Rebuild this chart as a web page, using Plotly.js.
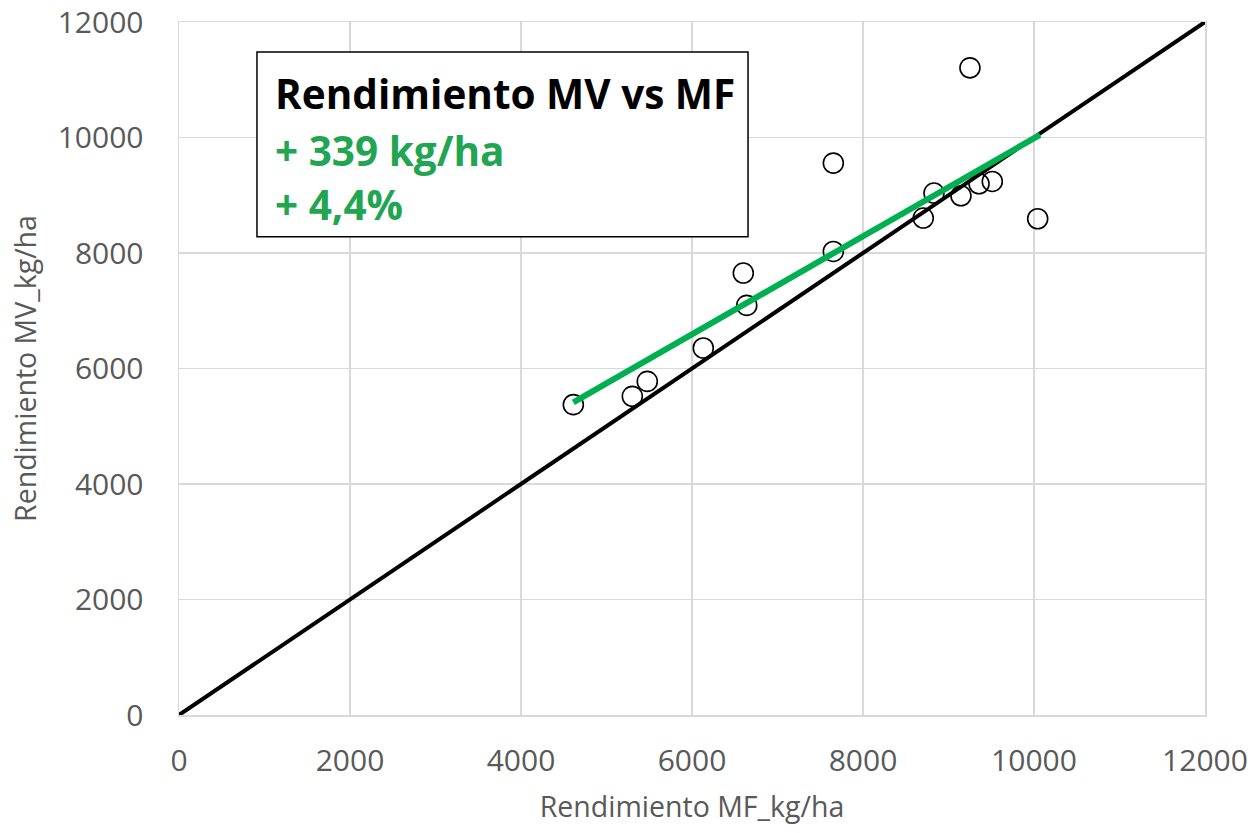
<!DOCTYPE html>
<html><head><meta charset="utf-8">
<script src="https://cdn.plot.ly/plotly-3.0.1.min.js"></script>
<style>html,body{margin:0;padding:0;background:#fff}</style>
</head><body><div id="chart" style="width:1256px;height:833px"></div>
<script>
// Data
var rendMF = [4612, 5302, 5477, 6132, 6600, 6640, 7653, 7653, 8705, 8830, 9146, 9251, 9357, 9512, 10043];
var rendMV = [5374, 5518, 5777, 6355, 7653, 7093, 9557, 8027, 8605, 9038, 8991, 11206, 9199, 9239, 8593];
var refLineX = [0, 12000];
var refLineY = [0, 12000];
var trendX = [4612, 10070];
var trendY = [5414, 10047];
var xTicks = [0, 2000, 4000, 6000, 8000, 10000, 12000];
var yTicks = [0, 2000, 4000, 6000, 8000, 10000, 12000];
var boxLines = ["Rendimiento MV vs MF", "+ 339 kg/ha", "+ 4,4%"];

var FONT = "Open Sans, Lato, sans-serif";
var traces = [
  {x: rendMF, y: rendMV, mode: "markers", marker: {symbol: "circle", size: 20, color: "rgba(255,255,255,0)", line: {color: "#000", width: 1.6}}},
  {x: refLineX, y: refLineY, mode: "lines", line: {color: "#000", width: 4}, hoverinfo: "skip"},
  {x: trendX, y: trendY, mode: "lines", line: {color: "#00b050", width: 6}, hoverinfo: "skip"}
];

var layout = {
  width: 1256, height: 833,
  margin: {l: 179, r: 51, t: 22, b: 117.5},
  paper_bgcolor: "#fff", plot_bgcolor: "#fff",
  showlegend: false,
  font: {family: FONT, color: "#595959"},
  xaxis: {
    range: [0, 12000], tickvals: xTicks, ticktext: xTicks.map(String),
    showgrid: true, gridcolor: "#d9d9d9", gridwidth: 1.5,
    zeroline: false, showline: true, linecolor: "#d9d9d9", linewidth: 1.5, mirror: true,
    ticks: "", ticklabelstandoff: 18,
    tickfont: {size: 30, family: FONT, color: "#595959"},
    title: {text: "Rendimiento MF_kg/ha", font: {size: 28.5, family: FONT, color: "#595959"}, standoff: 18}
  },
  yaxis: {
    range: [0, 12000], tickvals: yTicks, ticktext: yTicks.map(String),
    showgrid: true, gridcolor: "#d9d9d9", gridwidth: 1.5,
    zeroline: false, showline: true, linecolor: "#d9d9d9", linewidth: 1.5, mirror: true,
    ticks: "", ticklabelstandoff: 28,
    tickfont: {size: 30, family: FONT, color: "#595959"},
    title: {text: "Rendimiento MV_kg/ha", font: {size: 28.5, family: FONT, color: "#595959"}, standoff: 12}
  },
  shapes: [
    {type: "rect", xref: "paper", yref: "paper", x0: 0.076, x1: 0.5546, y0: 0.690, y1: 0.9567,
     line: {color: "#000", width: 1.5}, fillcolor: "#fff", layer: "above"}
  ],
  annotations: [
    {xref: "paper", yref: "paper", x: 0.0916, y: 0.897, xanchor: "left", yanchor: "middle",
     text: "<b>" + boxLines[0] + "</b>", showarrow: false, font: {size: 40.5, family: FONT, color: "#000"}},
    {xref: "paper", yref: "paper", x: 0.0916, y: 0.815, xanchor: "left", yanchor: "middle",
     text: "<b>" + boxLines[1] + "</b>", showarrow: false, font: {size: 40.5, family: FONT, color: "#22a553"}},
    {xref: "paper", yref: "paper", x: 0.0916, y: 0.736, xanchor: "left", yanchor: "middle",
     text: "<b>" + boxLines[2] + "</b>", showarrow: false, font: {size: 40.5, family: FONT, color: "#22a553"}}
  ]
};
Plotly.newPlot("chart", traces, layout, {displayModeBar: false, staticPlot: true});
</script></body></html>
